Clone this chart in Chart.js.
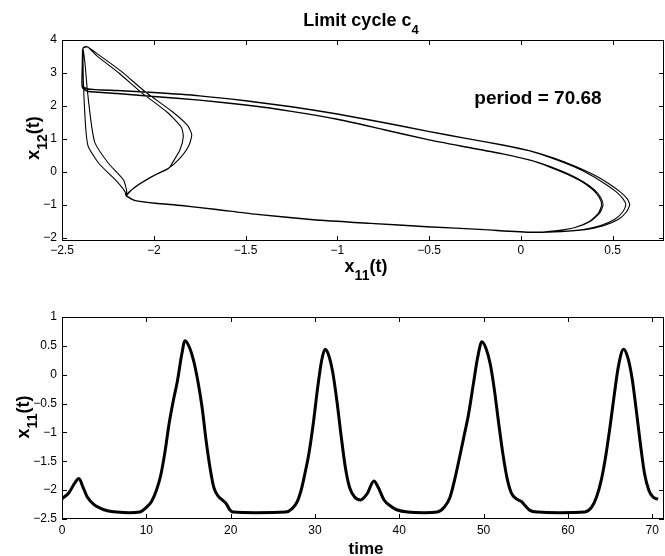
<!DOCTYPE html>
<html>
<head>
<meta charset="utf-8">
<script src="https://cdn.jsdelivr.net/npm/chart.js@4.4.0/dist/chart.umd.min.js"></script>
<style>
  html, body { margin: 0; padding: 0; background: #fff; }
  #wrap { position: relative; width: 665px; height: 556px; }
  canvas { position: absolute; left: 0; }
  #phase { top: 0; }
  #series { top: 290px; }
</style>
</head>
<body>
<div id="wrap">
  <canvas id="phase" width="665" height="290" style="width:665px;height:290px"></canvas>
  <canvas id="series" width="665" height="266" style="width:665px;height:266px"></canvas>
</div>
<script>
// Phase portrait, one full period = four loops
// loop A: outer nose, upper top line, outer tip
const loopA_x11 = [-2.15, -2.10, -2.01, -1.92, -1.866, -1.811, -1.793, -1.815, -1.90, -2.047, -2.175, -2.30, -2.365,
  -2.385, -2.389, -2.389,
  -2.36, -2.2, -2.0, -1.75, -1.5, -1.25, -1.0, -0.75, -0.512, -0.30, -0.10, 0.05, 0.18, 0.30, 0.40, 0.48, 0.54, 0.58, 0.593,
  0.575, 0.53, 0.45, 0.35, 0.22, 0.06,
  -0.2, -0.512, -0.82, -1.13, -1.45, -1.67, -1.85, -1.99, -2.10, -2.15];
const loopA_x12 = [-0.72, -0.45, -0.14, 0.11, 0.36, 0.77, 1.12, 1.40, 1.83, 2.43, 3.04, 3.55, 3.80,
  3.76, 3.20, 2.62,
  2.52, 2.47, 2.41, 2.31, 2.16, 1.98, 1.76, 1.50, 1.24, 1.02, 0.82, 0.64, 0.42, 0.16, -0.10, -0.36, -0.60, -0.82, -1.00,
  -1.22, -1.45, -1.64, -1.76, -1.82, -1.84,
  -1.75, -1.66, -1.56, -1.45, -1.28, -1.13, -1.02, -0.95, -0.87, -0.74];

// loop B: outer left path, lower top line, inner tip
const loopB_x11 = [-2.157, -2.21, -2.30, -2.357, -2.369, -2.378, -2.384, -2.386, -2.388, -2.390, -2.390,
  -2.36, -2.2, -2.0, -1.75, -1.5, -1.25, -1.0, -0.75, -0.512, -0.30, -0.10, 0.05, 0.16, 0.26, 0.34, 0.40, 0.435, 0.448,
  0.43, 0.38, 0.30, 0.20, 0.06,
  -0.2, -0.512, -0.82, -1.13, -1.45, -1.67, -1.85, -1.99, -2.10, -2.15];
const loopB_x12 = [-0.60, -0.24, 0.26, 0.77, 1.20, 2.00, 2.80, 3.60, 3.72, 3.20, 2.58,
  2.45, 2.38, 2.29, 2.18, 2.03, 1.84, 1.60, 1.29, 0.99, 0.76, 0.55, 0.36, 0.16, -0.07, -0.30, -0.54, -0.78, -1.00,
  -1.25, -1.50, -1.68, -1.78, -1.84,
  -1.76, -1.67, -1.57, -1.46, -1.29, -1.14, -1.03, -0.96, -0.88, -0.72];

// loop C: inner nose, upper top line, outer tip
const loopC_x11 = [-2.10, -2.01, -1.92, -1.90, -1.857, -1.839, -1.85, -1.925, -2.07, -2.19, -2.31, -2.36,
  -2.385, -2.389, -2.389,
  -2.36, -2.2, -2.0, -1.75, -1.5, -1.25, -1.0, -0.75, -0.512, -0.30, -0.10, 0.05, 0.17, 0.29, 0.385, 0.46, 0.52, 0.558, 0.572,
  0.555, 0.51, 0.435, 0.34, 0.215, 0.06,
  -0.2, -0.512, -0.82, -1.13, -1.45, -1.67, -1.85, -1.99, -2.10, -2.15];
const loopC_x12 = [-0.46, -0.15, 0.10, 0.26, 0.67, 1.07, 1.35, 1.80, 2.42, 3.00, 3.52, 3.79,
  3.75, 3.20, 2.60,
  2.51, 2.46, 2.40, 2.30, 2.15, 1.97, 1.75, 1.49, 1.23, 1.01, 0.81, 0.63, 0.41, 0.15, -0.11, -0.37, -0.61, -0.83, -1.01,
  -1.22, -1.45, -1.63, -1.75, -1.81, -1.83,
  -1.75, -1.66, -1.56, -1.45, -1.28, -1.13, -1.02, -0.95, -0.87, -0.73];

// loop D: inner left path, lower top line, inner tip
const loopD_x11 = [-2.147, -2.166, -2.247, -2.32, -2.338, -2.362, -2.375, -2.385, -2.39, -2.39,
  -2.36, -2.2, -2.0, -1.75, -1.5, -1.25, -1.0, -0.75, -0.512, -0.30, -0.10, 0.05, 0.155, 0.255, 0.335, 0.393, 0.428, 0.44,
  0.422, 0.373, 0.295, 0.197, 0.06,
  -0.2, -0.512, -0.82, -1.13, -1.45, -1.67, -1.85, -1.99, -2.10, -2.15];
const loopD_x12 = [-0.60, -0.24, 0.26, 0.87, 1.37, 2.48, 3.30, 3.70, 3.20, 2.56,
  2.44, 2.37, 2.28, 2.17, 2.02, 1.83, 1.59, 1.28, 0.98, 0.75, 0.54, 0.35, 0.15, -0.08, -0.31, -0.55, -0.79, -1.01,
  -1.26, -1.51, -1.69, -1.79, -1.84,
  -1.76, -1.67, -1.57, -1.46, -1.29, -1.14, -1.03, -0.96, -0.88, -0.72];

// Time series x11(t)
const timeValues = [
  0, 0.8, 1.5, 2.0, 2.5, 3.0, 3.8, 4.5, 5.5, 6.5, 8.0, 9.2, 10.0, 10.6, 11.2, 11.7, 12.2, 12.7,
  13.2, 13.7, 14.2, 14.6, 15.1, 15.6, 16.1, 16.6, 17.1, 17.6, 18.0, 18.5, 19.0, 19.5, 19.9, 20.3,
  23.0, 26.5, 27.3, 27.9, 28.4, 28.8, 29.3, 29.8, 30.3, 30.8, 31.2, 31.6, 32.1, 32.6, 33.1, 33.6,
  34.1, 34.7, 35.4, 36.2, 37.0, 37.5, 38.2, 39.0, 39.7, 41.0, 43.0, 44.5, 45.3, 46.0, 46.6, 47.2,
  47.7, 48.2, 48.8, 49.3, 49.8, 50.3, 50.8, 51.3, 51.8, 52.3, 52.8, 53.3, 53.9, 54.5, 55.0, 55.5,
  56.5, 59.0, 62.0, 62.8, 63.4, 64.0, 64.5, 65.0, 65.5, 66.0, 66.6, 67.1, 67.6, 68.1, 68.6, 69.1,
  69.6, 70.1, 70.68
];
const x11Values = [
  -2.15, -2.05, -1.88, -1.80, -1.95, -2.12, -2.25, -2.31, -2.36, -2.38, -2.39, -2.38, -2.30, -2.20, -2.00, -1.75, -1.35, -0.85,
  -0.45, -0.10, 0.35, 0.59, 0.48, 0.25, -0.10, -0.55, -1.15, -1.65, -1.95, -2.10, -2.17, -2.24, -2.34, -2.38,
  -2.39, -2.38, -2.32, -2.20, -1.98, -1.72, -1.35, -0.85, -0.25, 0.25, 0.44, 0.35, 0.05, -0.45, -1.05, -1.60,
  -1.95, -2.12, -2.17, -2.06, -1.84, -1.95, -2.17, -2.28, -2.34, -2.38, -2.39, -2.38, -2.30, -2.13, -1.80, -1.40,
  -1.05, -0.70, -0.15, 0.30, 0.57, 0.45, 0.18, -0.28, -0.85, -1.38, -1.80, -2.05, -2.15, -2.20, -2.28, -2.35,
  -2.38, -2.39, -2.38, -2.30, -2.12, -1.80, -1.40, -0.90, -0.35, 0.15, 0.44, 0.30, -0.05, -0.60, -1.20, -1.72,
  -2.00, -2.12, -2.16
];

const phaseXTicks = [-2.5, -2, -1.5, -1, -0.5, 0, 0.5];
const phaseYTicks = [-2, -1, 0, 1, 2, 3, 4];
const timeTicks = [0, 10, 20, 30, 40, 50, 60, 70];
const seriesYTicks = [-2.5, -2, -1.5, -1, -0.5, 0, 0.5, 1];

const phaseX11 = loopA_x11.concat(loopB_x11, loopC_x11, loopD_x11);
const phaseX12 = loopA_x12.concat(loopB_x12, loopC_x12, loopD_x12);

const FONT = '"Liberation Sans", Arial, Helvetica, sans-serif';
const tickFont = { family: FONT, size: 12 };
const fmt = v => (v < 0 ? '\u2212' + Math.abs(v) : String(v));

// draw text with subscript pieces, centred on x
function drawParts(ctx, parts, x, y, size, subSize, subDrop) {
  let total = 0;
  parts.forEach(p => {
    ctx.font = 'bold ' + (p[1] ? subSize : size) + 'px ' + FONT;
    total += ctx.measureText(p[0]).width;
  });
  let cx = x - total / 2;
  ctx.textAlign = 'left';
  ctx.textBaseline = 'alphabetic';
  parts.forEach(p => {
    ctx.font = 'bold ' + (p[1] ? subSize : size) + 'px ' + FONT;
    ctx.fillText(p[0], cx, y + (p[1] ? subDrop : 0));
    cx += ctx.measureText(p[0]).width;
  });
}

// box + inward ticks on all four sides, MATLAB style
function frame(xTicks, yTicks) {
  return {
    id: 'frame',
    afterDatasetsDraw(chart) {
      const { ctx, chartArea: a, scales } = chart;
      ctx.save();
      ctx.strokeStyle = '#000';
      ctx.lineWidth = 1;
      ctx.strokeRect(a.left + 0.5, a.top + 0.5, a.right - a.left - 1, a.bottom - a.top - 1);
      ctx.beginPath();
      xTicks.forEach(v => {
        const px = Math.round(scales.x.getPixelForValue(v)) + 0.5;
        ctx.moveTo(px, a.bottom); ctx.lineTo(px, a.bottom - 5);
        ctx.moveTo(px, a.top); ctx.lineTo(px, a.top + 5);
      });
      yTicks.forEach(v => {
        const py = Math.round(scales.y.getPixelForValue(v)) + 0.5;
        ctx.moveTo(a.left, py); ctx.lineTo(a.left + 5, py);
        ctx.moveTo(a.right, py); ctx.lineTo(a.right - 5, py);
      });
      ctx.stroke();
      ctx.restore();
    }
  };
}

function axis(min, max, ticks, size, isX, pad) {
  return {
    type: 'linear',
    min: min,
    max: max,
    afterBuildTicks: s => { s.ticks = ticks.map(v => ({ value: v })); },
    afterFit: s => { if (isX) s.height = size; else s.width = size; },
    grid: { display: false, drawTicks: false },
    border: { display: false },
    ticks: { font: tickFont, color: '#000', padding: pad, maxRotation: 0, autoSkip: false, callback: fmt }
  };
}

const phaseText = {
  id: 'phaseText',
  afterDraw(chart) {
    const ctx = chart.ctx;
    ctx.save();
    ctx.fillStyle = '#000';
    drawParts(ctx, [['Limit cycle c', 0], ['4', 1]], 361, 26, 18, 13, 8);
    drawParts(ctx, [['period = 70.68', 0]], 538, 104, 19, 19, 0);
    drawParts(ctx, [['x', 0], ['11', 1], ['(t)', 0]], 366, 272, 18, 14, 8);
    ctx.translate(39, 138);
    ctx.rotate(-Math.PI / 2);
    drawParts(ctx, [['x', 0], ['12', 1], ['(t)', 0]], 0, 0, 18, 14, 8);
    ctx.restore();
  }
};

const seriesText = {
  id: 'seriesText',
  afterDraw(chart) {
    const ctx = chart.ctx;
    ctx.save();
    ctx.fillStyle = '#000';
    drawParts(ctx, [['time', 0]], 366, 264, 17, 17, 0);
    ctx.translate(29, 127);
    ctx.rotate(-Math.PI / 2);
    drawParts(ctx, [['x', 0], ['11', 1], ['(t)', 0]], 0, 0, 18, 14, 8);
    ctx.restore();
  }
};

new Chart(document.getElementById('phase').getContext('2d'), {
  type: 'scatter',
  data: {
    datasets: [{
      data: phaseX11.map((x, i) => ({ x: x, y: phaseX12[i] })),
      showLine: true,
      borderColor: '#000',
      borderWidth: 1.1,
      pointRadius: 0,
      tension: 0.2,
      fill: false
    }]
  },
  options: {
    responsive: false,
    animation: false,
    layout: { padding: { top: 40, right: 1, left: 0, bottom: 0 } },
    plugins: { legend: { display: false }, tooltip: { enabled: false } },
    scales: {
      x: axis(-2.5, 0.78, phaseXTicks, 49, true, 2),
      y: axis(-2.1, 4, phaseYTicks, 62, false, 5)
    }
  },
  plugins: [frame(phaseXTicks, phaseYTicks), phaseText]
});

new Chart(document.getElementById('series').getContext('2d'), {
  type: 'line',
  data: {
    datasets: [{
      data: timeValues.map((t, i) => ({ x: t, y: x11Values[i] })),
      borderColor: '#000',
      borderWidth: 3,
      pointRadius: 0,
      cubicInterpolationMode: 'monotone',
      fill: false
    }]
  },
  options: {
    responsive: false,
    animation: false,
    layout: { padding: { top: 27, right: 1, left: 0, bottom: 0 } },
    plugins: { legend: { display: false }, tooltip: { enabled: false } },
    scales: {
      x: axis(0, 71.4, timeTicks, 37, true, 4),
      y: axis(-2.5, 1, seriesYTicks, 62, false, 5)
    }
  },
  plugins: [frame(timeTicks, seriesYTicks), seriesText]
});
</script>
</body>
</html>
